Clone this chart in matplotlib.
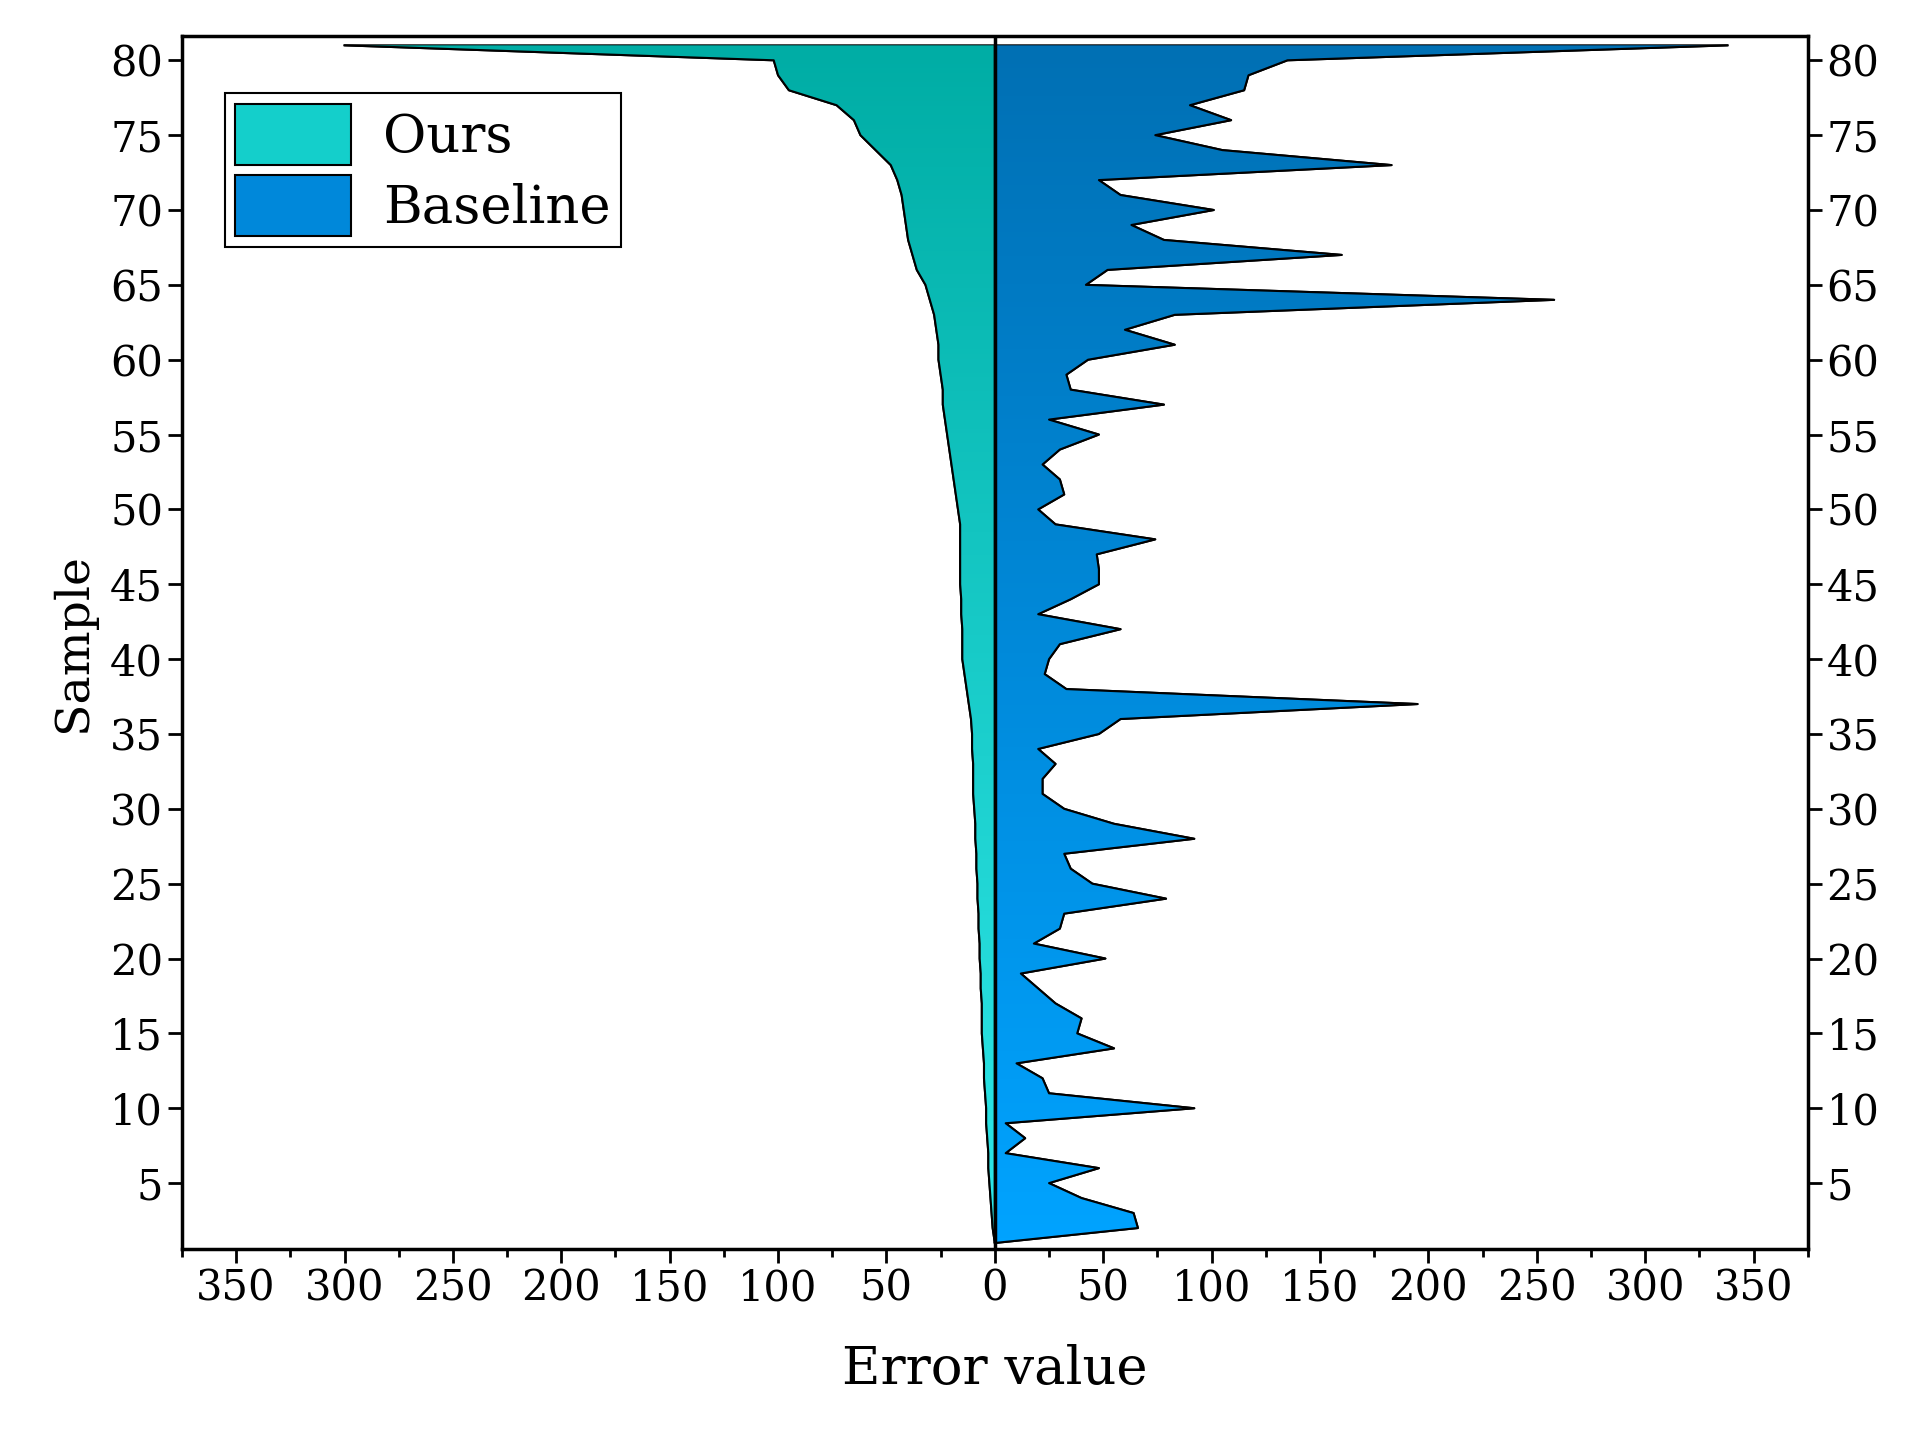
import numpy as np
import matplotlib
matplotlib.use("Agg")
import matplotlib.pyplot as plt
from matplotlib.colors import LinearSegmentedColormap
from matplotlib.ticker import MultipleLocator, FuncFormatter
from matplotlib.patches import Rectangle

samples = list(range(1, 82))
baseline = [0, 66, 64, 40, 25, 48, 5, 14, 5, 92, 25, 22, 10, 55, 38, 40, 28, 20, 12, 51,
            18, 30, 32, 79, 45, 35, 32, 92, 55, 32, 22, 22, 28, 20, 48, 58, 195, 33, 23, 25,
            30, 58, 20, 35, 48, 48, 47, 74, 28, 20, 32, 30, 22, 30, 48, 25, 78, 35, 33, 43,
            83, 60, 83, 258, 42, 52, 160, 78, 63, 101, 58, 48, 183, 105, 74, 109, 90, 115, 117, 135, 338]
ours = [0, 1, 1.5, 2, 2.5, 3, 3, 3.5, 4, 4, 4.5, 5, 5, 5.5, 6, 6, 6, 6.5, 6.5, 7,
        7, 7.5, 7.5, 8, 8, 8.5, 8.5, 9, 9, 9.5, 10, 10, 10, 10.5, 10.5, 11, 12, 13, 14, 15,
        15, 15, 15.5, 15.5, 16, 16, 16, 16, 16, 17, 18, 19, 20, 21, 22, 23, 24, 24, 25, 26,
        26, 27, 28, 30, 32, 36, 38, 40, 41, 42, 43, 45, 48, 55, 62, 65, 73, 95, 100, 102, 300]

plt.rcParams['font.family'] = ['DejaVu Serif']
fig = plt.figure(figsize=(19.15, 14.54), dpi=100)
ax = fig.add_axes([0.095, 0.141, 0.849, 0.834])

y = np.array(samples, float)
xl = -np.array(ours, float)
xr = np.array(baseline, float)

def grad_fill(x, c_top, c_bot):
    poly = ax.fill_betweenx(y, 0, x, facecolor='none', edgecolor='black', linewidth=1.5)
    cmap = LinearSegmentedColormap.from_list('g', [c_bot, c_top])
    grad = np.linspace(0, 1, 256).reshape(-1, 1)
    im = ax.imshow(grad, cmap=cmap, aspect='auto', origin='lower',
                   extent=[min(x.min(), 0), max(x.max(), 0), y.min(), y.max()], zorder=1)
    path = poly.get_paths()[0]
    im.set_clip_path(path, transform=ax.transData)
    ax.plot(x, y, color='black', lw=1.5, zorder=3)

c_ours_top, c_ours_bot = '#00ADA5', '#2FE8EA'
c_base_top, c_base_bot = '#0070B4', '#00A3FF'
grad_fill(xl, c_ours_top, c_ours_bot)
grad_fill(xr, c_base_top, c_base_bot)
ax.axvline(0, color='black', lw=2.5, zorder=4)

ax.set_xlim(-375, 375)
ax.set_ylim(0.6, 81.6)
ax.xaxis.set_major_locator(MultipleLocator(50))
ax.xaxis.set_minor_locator(MultipleLocator(25))
ax.yaxis.set_major_locator(MultipleLocator(5))
ax.xaxis.set_major_formatter(FuncFormatter(lambda v, p: f"{abs(int(round(v)))}"))
ax.tick_params(axis='both', which='major', direction='out', length=10, width=2, labelsize=30)
ax.tick_params(axis='x', which='minor', direction='out', length=6, width=2)
ax.tick_params(axis='y', right=True, labelright=True)
for s in ax.spines.values():
    s.set_linewidth(2.5)
ax.set_xlabel('Error value', fontsize=38, labelpad=25)
ax.set_ylabel('Sample', fontsize=34, labelpad=10)

h1 = Rectangle((0, 0), 1, 1, facecolor='#14CFCB', edgecolor='black', lw=1.5)
h2 = Rectangle((0, 0), 1, 1, facecolor='#0088DA', edgecolor='black', lw=1.5)
leg = ax.legend([h1, h2], ['Ours', 'Baseline'], loc='upper left', bbox_to_anchor=(0.01, 0.975),
                fontsize=38, fancybox=False, framealpha=1, edgecolor='black',
                handlelength=2.2, handleheight=1.4, borderpad=0.2, labelspacing=0.2, handletextpad=0.6)
leg.get_frame().set_linewidth(1.5)
fig.savefig('out.png', dpi=100)
